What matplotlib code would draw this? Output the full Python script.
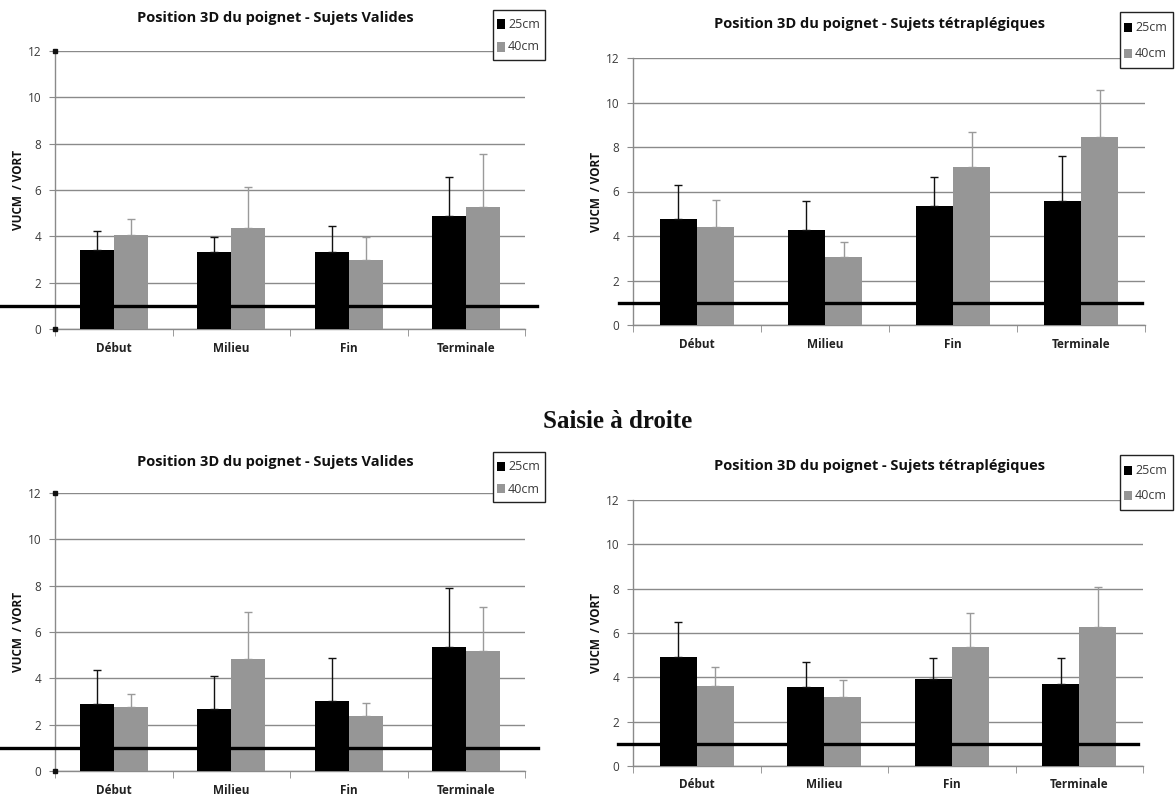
import matplotlib
matplotlib.use("Agg")
import matplotlib.pyplot as plt
import matplotlib.transforms as mtransforms
from matplotlib.patches import Rectangle
import numpy as np

plt.rcParams['font.family'] = ['Open Sans', 'DejaVu Sans']

categories = ["Début", "Milieu", "Fin", "Terminale"]
series_names = ["25cm", "40cm"]
yticks = [0, 2, 4, 6, 8, 10, 12]
ref_value = 1.0

# Panel 1: Saisie (haut) - Sujets Valides
p1_25 = [3.39, 3.33, 3.32, 4.89]
p1_25_err = [0.86, 0.66, 1.13, 1.69]
p1_40 = [4.07, 4.38, 2.97, 5.26]
p1_40_err = [0.67, 1.77, 1.00, 2.28]

# Panel 2: Sujets tétraplégiques (haut)
p2_25 = [4.75, 4.27, 5.37, 5.59]
p2_25_err = [1.52, 1.31, 1.26, 2.00]
p2_40 = [4.42, 3.07, 7.12, 8.44]
p2_40_err = [1.20, 0.65, 1.55, 2.13]

# Panel 3: Saisie à droite - Sujets Valides
p3_25 = [2.90, 2.67, 3.03, 5.35]
p3_25_err = [1.47, 1.41, 1.84, 2.55]
p3_40 = [2.77, 4.84, 2.36, 5.16]
p3_40_err = [0.54, 2.02, 0.59, 1.91]

# Panel 4: Saisie à droite - Sujets tétraplégiques
p4_25 = [4.92, 3.55, 3.93, 3.72]
p4_25_err = [1.56, 1.16, 0.92, 1.13]
p4_40 = [3.60, 3.13, 5.39, 6.28]
p4_40_err = [0.87, 0.73, 1.52, 1.79]

title_valides = "Position 3D du poignet - Sujets Valides"
title_tetra = "Position 3D du poignet - Sujets tétraplégiques"
ylabel = "VUCM  / VORT"
mid_title = "Saisie à droite"

W, H = 1176, 801
fig = plt.figure(figsize=(W / 100, H / 100), dpi=100)
fig.patch.set_facecolor("white")

BLACK = "#000000"
GREY = "#969696"
GRID = "#8a8a8a"
TXT = "#3a3a3a"


def px_axes(l, t, r, b):
    return fig.add_axes([l / W, 1 - b / H, (r - l) / W, (b - t) / H])


def draw_panel(box, v25, e25, v40, e40, title, title_xy, legend_box, line_x, squares):
    ax = px_axes(*box)
    x = np.arange(len(categories))
    bw = 0.29
    ax.bar(x - bw / 2, v25, bw, color=BLACK, zorder=3)
    ax.bar(x + bw / 2, v40, bw, color=GREY, zorder=3)
    ax.errorbar(x - bw / 2, v25, yerr=[np.zeros(len(v25)), e25], fmt="none",
                ecolor="#111111", elinewidth=1.0, capsize=3, capthick=1.0, zorder=4)
    ax.errorbar(x + bw / 2, v40, yerr=[np.zeros(len(v40)), e40], fmt="none",
                ecolor="#9a9a9a", elinewidth=1.0, capsize=3, capthick=1.0, zorder=4)
    ax.set_xlim(-0.5, len(categories) - 0.5)
    ax.set_ylim(yticks[0], yticks[-1])
    ax.set_yticks(yticks)
    ax.set_yticklabels([str(t) for t in yticks], fontsize=8.5, color=TXT)
    ax.yaxis.grid(True, color=GRID, linewidth=1.0, zorder=0)
    ax.set_axisbelow(True)
    ax.set_xticks(x)
    ax.set_xticklabels(categories, fontsize=8.5, fontweight="bold", color="#222222")
    ax.tick_params(axis="x", length=0, pad=9)
    ax.set_xticks(np.arange(len(categories) + 1) - 0.5, minor=True)
    ax.tick_params(axis="x", which="minor", length=5, color=GRID, direction="out")
    ax.tick_params(axis="y", length=4, color=GRID, direction="out", pad=6)
    for s in ["top", "right"]:
        ax.spines[s].set_visible(False)
    for s in ["left", "bottom"]:
        ax.spines[s].set_color(GRID)
        ax.spines[s].set_linewidth(1.0)
    ax.set_ylabel(ylabel, fontsize=8.5, fontweight="bold", color="#111111", labelpad=2)
    # reference line at 1
    trans = mtransforms.blended_transform_factory(ax.transAxes, ax.transData)
    ax.plot(line_x, [ref_value, ref_value], color=BLACK, linewidth=2.4,
            transform=trans, clip_on=False, zorder=5)
    if squares:
        ax.plot([0, 0], [yticks[0], yticks[-1]], linestyle="none", marker="s",
                markersize=3.5, color="#111111", transform=trans, clip_on=False, zorder=6)
    fig.text(title_xy[0] / W, 1 - title_xy[1] / H, title, ha="center", va="center",
             fontsize=10.5, fontweight="bold", color="#111111")
    # legend
    l, t, r, b = legend_box
    fig.patches.append(Rectangle((l / W, 1 - b / H), (r - l) / W, (b - t) / H,
                                 transform=fig.transFigure, facecolor="white",
                                 edgecolor="#222222", linewidth=1.0, zorder=10))
    rows = [(series_names[0], BLACK), (series_names[1], GREY)]
    h = (b - t)
    for i, (name, col) in enumerate(rows):
        cy = t + h * (0.28 + 0.46 * i)
        fig.patches.append(Rectangle(((l + 4) / W, 1 - (cy + 4.5) / H), 8 / W, 9 / H,
                                     transform=fig.transFigure, facecolor=col,
                                     edgecolor="none", zorder=11))
        fig.text((l + 15) / W, 1 - cy / H, name, ha="left", va="center",
                 fontsize=9, color=TXT, zorder=12)
    return ax


draw_panel((55, 51, 525, 329), p1_25, p1_25_err, p1_40, p1_40_err,
           title_valides, (275, 18), (493, 10, 545, 60), [-0.117, 1.026], True)
draw_panel((633, 58, 1145, 325), p2_25, p2_25_err, p2_40, p2_40_err,
           title_tetra, (879, 24), (1120, 12, 1173, 68), [-0.027, 0.994], False)
draw_panel((55, 493, 525, 771), p3_25, p3_25_err, p3_40, p3_40_err,
           title_valides, (275, 462), (493, 452, 545, 502), [-0.117, 1.028], True)
draw_panel((633, 500, 1143, 766), p4_25, p4_25_err, p4_40, p4_40_err,
           title_tetra, (879, 466), (1120, 455, 1173, 510), [-0.03, 0.99], False)

fig.text(618 / W, 1 - 422 / H, mid_title, ha="center", va="center", fontsize=18,
         fontweight="bold", family=["Liberation Serif", "DejaVu Serif"], color="#111111")

fig.savefig("out.png", dpi=100, facecolor="white")
